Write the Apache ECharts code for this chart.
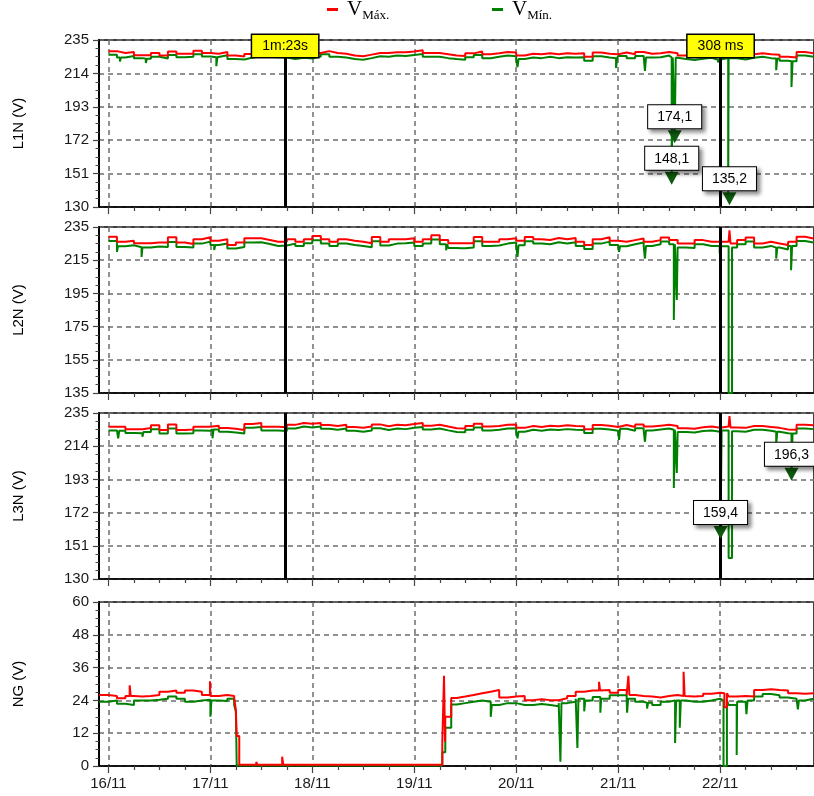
<!DOCTYPE html>
<html>
<head>
<meta charset="utf-8">
<script src="https://cdn.jsdelivr.net/npm/echarts@6.0.0/dist/echarts.min.js"></script>
<style>
  html, body { margin: 0; padding: 0; background: #fff; }
  #chart { width: 814px; height: 796px; }
</style>
</head>
<body>
<div id="chart"></div>
<script>
// time in hours from 16/11 00:00
const hours = Array.from({ length: 84 }, (_, i) => i * 2);
const dayTicks = [0, 24, 48, 72, 96, 120, 144];
const dayLabels = ['16/11', '17/11', '18/11', '19/11', '20/11', '21/11', '22/11'];
const quarterTicks = [6, 12, 18, 30, 36, 42, 54, 60, 66, 78, 84, 90, 102, 108, 114, 126, 132, 138, 150, 156, 162];

const yNames = ['L1N (V)', 'L2N (V)', 'L3N (V)', 'NG (V)'];
const yMin = [130, 135, 130, 0];
const yMax = [235, 235, 235, 60];
const yStep = [21, 20, 21, 12];

// L1N
const l1Max = [
  228.0, 226.8, 227.5, 225.4, 225.4, 226.8, 225.2, 227.8, 226.4, 226.4,
  228.3, 226.8, 226.4, 227.5, 225.3, 224.7, 226.2, 227.5, 226.5, 226.5,
  226.3, 225.0, 226.0, 225.6, 226.8, 228.0, 226.8, 226.4, 225.3, 224.8,
  225.8, 226.8, 226.8, 227.3, 227.3, 227.8, 228.6, 226.8, 226.8, 226.0,
  225.2, 225.0, 226.6, 227.8, 226.0, 226.6, 227.5, 227.2, 225.2, 226.3,
  226.0, 226.6, 226.0, 226.6, 226.3, 226.6, 224.4, 227.2, 226.3, 226.0,
  227.2, 226.0, 227.5, 226.3, 226.6, 227.5, 226.6, 225.2, 224.8, 225.5,
  226.0, 225.0, 226.0, 225.8, 225.2, 226.0, 226.6, 226.0, 225.8, 224.4,
  224.0, 227.5, 226.6, 226.6
];
const l1Min = [
  225.8, 224.0, 225.0, 223.6, 223.2, 224.5, 223.4, 225.6, 224.2, 224.5,
  226.0, 224.6, 224.2, 225.4, 223.0, 222.8, 224.0, 225.0, 224.4, 224.2,
  224.0, 223.0, 223.8, 223.4, 224.6, 226.0, 224.4, 224.0, 223.0, 222.6,
  223.6, 224.8, 224.5, 225.2, 225.0, 225.6, 226.2, 224.4, 224.5, 223.6,
  223.0, 222.6, 224.2, 225.5, 223.5, 224.4, 225.2, 224.8, 223.0, 224.0,
  223.6, 224.4, 223.6, 224.2, 224.0, 224.2, 222.0, 224.8, 224.0, 223.5,
  225.0, 223.6, 225.0, 224.0, 224.2, 225.2, 224.0, 223.0, 222.4, 223.2,
  223.8, 222.6, 223.6, 223.5, 222.8, 223.8, 224.4, 223.6, 223.4, 222.0,
  221.6, 225.2, 224.4, 224.2
];
const l1MaxSpikes = [];
const l1MinSpikes = [
  [2.7, 221.5], [8.8, 220.5], [25.4, 218.5], [96.3, 218.0], [119.5, 217.4],
  [126.3, 215.5], [132.6, 148.1], [133.3, 174.1], [143.5, 221.0],
  [145.9, 135.2, 0.8], [157.2, 216.0], [160.8, 205.5]
];
const l1Markers = [[133.3, 174.1], [132.6, 148.1], [146.2, 135.2]];

// L2N
const l2Max = [
  229.2, 226.1, 226.7, 225.2, 225.2, 225.6, 225.6, 228.8, 225.6, 224.8,
  227.6, 228.8, 226.7, 227.6, 224.2, 225.6, 228.2, 228.2, 227.2, 226.1,
  226.1, 227.6, 226.1, 227.6, 229.6, 227.6, 226.1, 227.6, 226.7, 226.1,
  225.2, 229.0, 226.1, 227.6, 227.6, 228.2, 226.1, 227.6, 230.0, 227.2,
  225.2, 225.2, 225.2, 229.0, 226.1, 226.1, 227.6, 228.2, 226.7, 229.0,
  227.6, 227.2, 228.4, 227.6, 228.4, 226.1, 224.2, 227.6, 228.8, 226.7,
  226.1, 227.1, 228.1, 226.1, 227.1, 228.7, 227.1, 225.1, 225.1, 227.1,
  226.1, 226.1, 226.1, 225.1, 227.1, 228.7, 225.1, 226.1, 225.1, 224.1,
  226.1, 229.1, 228.1, 228.1
];
const l2Min = [
  226.6, 223.4, 224.0, 222.8, 222.6, 223.2, 223.0, 226.0, 223.0, 222.6,
  225.0, 226.2, 224.2, 225.0, 222.0, 223.0, 225.6, 225.8, 224.8, 223.6,
  223.8, 225.0, 223.6, 225.2, 227.0, 225.0, 223.6, 225.0, 224.2, 223.6,
  222.8, 226.4, 223.8, 225.0, 225.2, 225.6, 223.6, 225.0, 227.4, 224.6,
  222.4, 222.2, 222.6, 226.4, 223.6, 223.8, 225.0, 225.6, 224.0, 226.4,
  225.0, 224.6, 225.8, 225.0, 225.8, 223.6, 221.8, 225.0, 226.2, 224.2,
  223.4, 224.6, 225.6, 223.6, 224.6, 226.2, 224.6, 222.6, 222.4, 224.6,
  223.6, 223.6, 223.4, 222.6, 224.6, 226.2, 222.6, 223.6, 222.6, 221.4,
  223.6, 226.6, 225.6, 225.6
];
const l2MaxSpikes = [[146.2, 233.0]];
const l2MinSpikes = [
  [2.0, 220.0], [7.8, 217.0], [24.9, 221.1], [79.5, 221.0], [83.0, 221.5],
  [96.3, 217.0], [112.7, 221.0], [120.2, 220.0], [126.3, 216.0], [133.1, 179.0],
  [133.8, 191.0], [143.9, 219.0], [146.0, 135.0, 0.8], [157.2, 216.0], [160.7, 209.0]
];
const l2Markers = [];

// L3N
const l3Max = [
  226.3, 226.3, 224.7, 224.7, 225.5, 227.2, 224.3, 227.7, 224.3, 224.5,
  226.3, 226.3, 227.0, 225.5, 225.0, 224.3, 228.0, 228.7, 226.3, 226.3,
  226.0, 227.5, 228.7, 228.2, 228.7, 227.4, 226.8, 227.6, 226.2, 225.6,
  226.4, 227.8, 226.6, 227.5, 227.2, 228.0, 228.6, 227.0, 227.6, 226.4,
  225.4, 225.2, 226.8, 228.2, 226.4, 226.8, 227.6, 227.8, 225.6, 226.8,
  226.2, 227.0, 226.6, 227.2, 226.8, 226.6, 224.8, 227.4, 227.0, 226.2,
  227.4, 226.2, 227.8, 226.4, 227.0, 227.6, 226.8, 225.4, 225.0, 226.0,
  226.4, 225.6, 226.4, 225.8, 225.6, 226.8, 226.8, 226.2, 225.6, 224.6,
  224.4, 227.6, 227.2, 227.0
];
const l3Min = [
  224.0, 223.8, 222.4, 222.2, 223.0, 224.8, 222.0, 225.2, 222.0, 222.2,
  224.0, 223.8, 224.6, 223.2, 222.6, 222.0, 225.6, 226.2, 224.0, 224.0,
  223.6, 225.2, 226.4, 225.8, 226.4, 225.0, 224.4, 225.2, 223.8, 223.2,
  224.0, 225.4, 224.2, 225.2, 224.8, 225.6, 226.2, 224.6, 225.2, 224.0,
  223.0, 222.8, 224.4, 225.8, 224.0, 224.4, 225.2, 225.4, 223.2, 224.4,
  223.8, 224.6, 224.2, 224.8, 224.4, 224.2, 222.4, 225.0, 224.6, 223.8,
  225.0, 223.8, 225.4, 224.0, 224.6, 225.2, 224.4, 223.0, 222.6, 223.6,
  224.0, 223.2, 224.0, 223.4, 223.2, 224.4, 224.4, 223.8, 223.2, 222.2,
  222.0, 225.2, 224.8, 224.6
];
const l3MaxSpikes = [[146.2, 233.0]];
const l3MinSpikes = [
  [2.3, 219.0], [8.0, 220.0], [24.5, 219.0], [96.3, 219.0], [120.2, 218.0],
  [126.3, 216.8], [133.1, 187.6], [133.8, 197.0], [144.1, 159.4],
  [146.0, 143.3, 0.8], [157.2, 214.7], [160.8, 196.3]
];
const l3Markers = [[144.1, 159.4], [160.8, 196.3]];

// NG
const ngHours = [
  -2.2, 0, 2, 4, 6, 8, 10, 12, 14, 16, 18, 20, 22, 24, 26, 28,
  29.6, 30.0, 30.2, 30.8, 36, 44, 52, 60, 68, 76, 78.6, 79.3, 80.7,
  82, 84, 86, 88, 90, 92, 94, 96, 98, 100, 102, 104, 106, 108, 110, 112, 114,
  116, 118, 120, 122, 124, 126, 128, 130, 132, 134, 136, 138, 140, 142, 144,
  146, 148, 150, 152, 154, 156, 158, 160, 162, 164, 166
];
const ngMax = [
  26.0, 25.6, 24.8, 25.6, 25.4, 25.6, 26.0, 27.2, 27.6, 26.8, 27.6, 27.2, 26.0, 25.6, 26.0, 25.6,
  24.8, 20.5, 11.0, 0.5, 0.5, 0.5, 0.5, 0.5, 0.5, 0.5, 8.9, 18.0, 24.9,
  25.4, 26.0, 26.6, 27.2, 27.8, 25.1, 25.4, 25.6, 24.1, 24.4, 24.1, 24.1, 24.8, 25.6, 27.2, 27.6, 27.6,
  27.8, 26.8, 27.8, 26.0, 25.6, 25.4, 25.1, 25.6, 26.0, 25.6, 25.4, 25.6, 26.4, 26.8, 26.6,
  25.4, 25.6, 25.4, 27.8, 28.1, 27.8, 27.6, 26.6, 26.4, 26.6, 26.6
];
const ngMin = [
  23.5, 24.0, 22.8, 22.3, 24.0, 24.0, 24.2, 24.6, 25.4, 24.6, 23.5, 24.0, 24.2, 24.0, 23.8, 24.6,
  22.3, 19.9, 0.2, 0.2, 0.2, 0.2, 0.2, 0.2, 0.2, 0.2, 5.0, 14.0, 22.5,
  23.0, 23.5, 24.0, 23.5, 22.3, 23.0, 23.0, 22.3, 22.3, 22.7, 22.3, 21.9, 23.0, 23.5, 24.6, 24.0, 25.2,
  24.6, 25.9, 25.9, 24.6, 23.5, 23.1, 22.3, 23.5, 24.0, 24.0, 23.5, 23.5, 24.0, 24.6, 24.0,
  22.3, 23.5, 24.0, 25.4, 26.3, 25.9, 25.1, 24.6, 24.0, 24.6, 24.6
];
const ngMaxSpikes = [
  [5.0, 29.5], [23.9, 31.0], [34.8, 1.5], [40.9, 3.4], [79.0, 33.0],
  [115.5, 30.8], [122.4, 33.0], [135.4, 34.5], [145.0, 21.5, 0.6]
];
const ngMinSpikes = [
  [24.0, 18.0], [90.0, 18.0], [106.4, 1.6], [110.4, 6.6], [112.0, 20.0],
  [115.8, 19.5], [122.1, 19.5], [126.8, 21.0], [133.4, 8.4], [134.5, 14.0],
  [144.8, 0.0, 0.8], [147.9, 4.0], [150.2, 19.0], [162.3, 20.7]
];

// cursors
const cursorHours = [41.6, 144.1];
const cursorLabels = ['1m:23s', '308 ms'];

const FONT = 'Liberation Sans';
const X_MIN = -2.22, X_MAX = 166.1;
const gridTops = [40, 227, 413, 602];
const gridHeights = [167, 166, 166, 164];

// step series with narrow spikes inserted
function stepData(times, values, spikes) {
  const pts = times.map((t, i) => [t, values[i]]);
  const baseAt = t => {
    let v = values[0];
    for (let i = 0; i < times.length; i++) if (times[i] <= t) v = values[i];
    return v;
  };
  spikes.forEach(([ts, vs, w]) => {
    const d = w || 0.25;
    pts.push([ts, vs], [ts + d, baseAt(ts + d)]);
  });
  return pts.sort((a, b) => a[0] - b[0]);
}

const panels = [
  { t: hours, max: l1Max, min: l1Min, maxSp: l1MaxSpikes, minSp: l1MinSpikes, marks: l1Markers, cursor: true },
  { t: hours, max: l2Max, min: l2Min, maxSp: l2MaxSpikes, minSp: l2MinSpikes, marks: l2Markers, cursor: true },
  { t: hours, max: l3Max, min: l3Min, maxSp: l3MaxSpikes, minSp: l3MinSpikes, marks: l3Markers, cursor: true },
  { t: ngHours, max: ngMax, min: ngMin, maxSp: ngMaxSpikes, minSp: ngMinSpikes, marks: [], cursor: false }
];

const dashed = { color: '#6e6e6e', width: 1.5, type: [5, 4] };

const grid = gridTops.map((top, i) => ({
  left: 99, top: top, width: 719, height: gridHeights[i],
  show: true, borderColor: '#000', borderWidth: 1.5
}));

const xAxis = [];
gridTops.forEach((_, i) => {
  xAxis.push({
    type: 'value', gridIndex: i, min: X_MIN, max: X_MAX, position: 'bottom',
    axisLine: { onZero: false, lineStyle: { color: '#000', width: 1.5 } },
    axisTick: { customValues: dayTicks, length: 7, lineStyle: { color: '#444', width: 1.2 } },
    axisLabel: {
      show: i === 3, customValues: dayTicks, margin: 10,
      fontSize: 15, color: '#1a1a1a', fontFamily: FONT,
      formatter: v => dayLabels[Math.round(v / 24)]
    },
    splitLine: { show: true, lineStyle: dashed }
  });
  // 6h minor ticks
  xAxis.push({
    type: 'value', gridIndex: i, min: X_MIN, max: X_MAX, position: 'bottom',
    axisLine: { show: false, onZero: false },
    axisTick: { customValues: quarterTicks, length: 4, lineStyle: { color: '#444', width: 1.2 } },
    axisLabel: { show: false },
    splitLine: { show: false }
  });
});

const yAxis = gridTops.map((_, i) => ({
  type: 'value', gridIndex: i, min: yMin[i], max: yMax[i], interval: yStep[i],
  name: yNames[i], nameLocation: 'middle', nameGap: 73,
  nameTextStyle: { fontSize: 15, color: '#000', fontFamily: FONT },
  axisLine: { show: true, onZero: false, lineStyle: { color: '#000', width: 2 } },
  axisTick: { show: true, length: 6, lineStyle: { color: '#444', width: 1.2 } },
  minorTick: { show: true, splitNumber: 4, length: 3.5, lineStyle: { color: '#444', width: 1 } },
  axisLabel: { fontSize: 15, color: '#1a1a1a', margin: 10, fontFamily: FONT },
  splitLine: { show: true, lineStyle: dashed }
}));

const series = [];
panels.forEach((p, i) => {
  const minSeries = {
    name: 'Mín.', type: 'line', step: 'end', xAxisIndex: 2 * i, yAxisIndex: i,
    symbol: 'none', animation: false,
    lineStyle: { color: '#008000', width: 2 }, itemStyle: { color: '#008000' },
    data: stepData(p.t, p.min, p.minSp)
  };
  if (p.cursor) {
    minSeries.markLine = {
      silent: true, symbol: 'none', z: 4, animation: false,
      lineStyle: { color: '#000', width: 3, type: 'solid' },
      data: cursorHours.map((t, k) => ({
        xAxis: t,
        label: {
          show: i === 0, position: 'end', distance: -17, formatter: cursorLabels[k],
          backgroundColor: '#ffff00', borderColor: '#000', borderWidth: 1.5,
          padding: [4, 10], fontSize: 14, color: '#000', fontFamily: FONT
        }
      }))
    };
  }
  if (p.marks.length) {
    minSeries.markPoint = {
      z: 6, symbol: 'triangle', symbolRotate: 180, symbolSize: [14, 13], animation: false,
      itemStyle: { color: '#0f5a0f' },
      label: {
        show: true, position: 'top', distance: 2,
        formatter: q => q.value.toFixed(1).replace('.', ','),
        backgroundColor: '#fff', borderColor: '#000', borderWidth: 1,
        padding: [5, 9, 4, 9], fontSize: 14, color: '#000', fontFamily: FONT,
        shadowColor: 'rgba(0,0,0,0.45)', shadowBlur: 4, shadowOffsetX: 3, shadowOffsetY: 3
      },
      data: p.marks.map(([t, v]) => ({ coord: [t, v], value: v }))
    };
  }
  series.push(minSeries);
  series.push({
    name: 'Máx.', type: 'line', step: 'end', xAxisIndex: 2 * i, yAxisIndex: i,
    symbol: 'none', animation: false,
    lineStyle: { color: '#ff0000', width: 2 }, itemStyle: { color: '#ff0000' },
    data: stepData(p.t, p.max, p.maxSp)
  });
});

const legendText = {
  color: '#000', fontFamily: 'Liberation Serif',
  rich: {
    v: { fontSize: 21, lineHeight: 26, fontFamily: 'Liberation Serif', color: '#000', padding: [0, 0, 0, 4] },
    s: { fontSize: 13, lineHeight: 17, verticalAlign: 'bottom', fontFamily: 'Liberation Serif', color: '#000' }
  }
};
const legendBase = {
  top: -1, padding: 0, icon: 'rect', itemWidth: 11, itemHeight: 3,
  selectedMode: false, formatter: n => '{v|V}{s|' + n + '}', textStyle: legendText
};

const chart = echarts.init(document.getElementById('chart'));
chart.setOption({
  animation: false,
  backgroundColor: '#fff',
  textStyle: { fontFamily: FONT },
  legend: [
    Object.assign({ data: ['Máx.'], left: 327 }, legendBase),
    Object.assign({ data: ['Mín.'], left: 492 }, legendBase)
  ],
  grid: grid,
  xAxis: xAxis,
  yAxis: yAxis,
  series: series
});
</script>
</body>
</html>
